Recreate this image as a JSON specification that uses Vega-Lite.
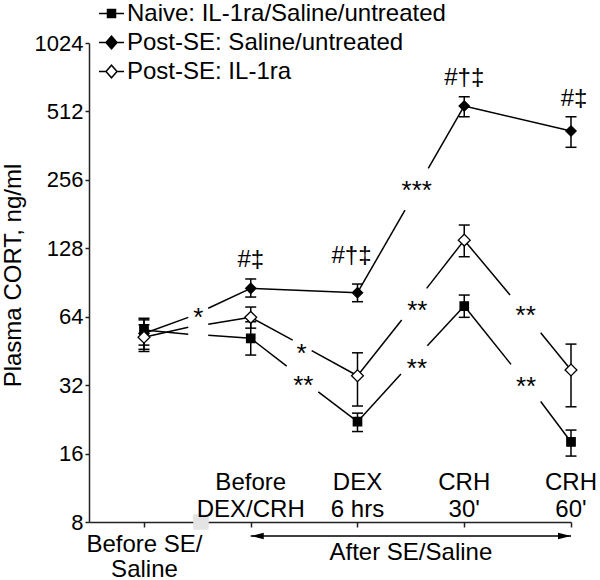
{
  "$schema": "https://vega.github.io/schema/vega-lite/v6.json",
  "width": 482,
  "height": 479,
  "autosize": "none",
  "padding": {"left": 89, "top": 43, "right": 29, "bottom": 58},
  "background": "white",
  "config": {"view": {"stroke": null}, "font": "Liberation Sans"},
  "datasets": {
    "pts": [
      {"s": "Naive: IL-1ra/Saline/untreated", "x": 1, "y": 56, "lo": 48, "hi": 63},
      {"s": "Naive: IL-1ra/Saline/untreated", "x": 2, "y": 51.4, "lo": 43.4, "hi": 60.8},
      {"s": "Naive: IL-1ra/Saline/untreated", "x": 3, "y": 22.1, "lo": 20.0, "hi": 24.1},
      {"s": "Naive: IL-1ra/Saline/untreated", "x": 4, "y": 71.3, "lo": 63.6, "hi": 79.7},
      {"s": "Naive: IL-1ra/Saline/untreated", "x": 5, "y": 18.0, "lo": 15.6, "hi": 20.3},
      {"s": "Post-SE: Saline/untreated", "x": 1, "y": 54, "lo": 45, "hi": 62},
      {"s": "Post-SE: Saline/untreated", "x": 2, "y": 85.3, "lo": 78.1, "hi": 93.8},
      {"s": "Post-SE: Saline/untreated", "x": 3, "y": 81.6, "lo": 74.5, "hi": 89.1},
      {"s": "Post-SE: Saline/untreated", "x": 4, "y": 541, "lo": 485, "hi": 594},
      {"s": "Post-SE: Saline/untreated", "x": 5, "y": 420, "lo": 356, "hi": 485},
      {"s": "Post-SE: IL-1ra", "x": 1, "y": 52, "lo": 46, "hi": 59},
      {"s": "Post-SE: IL-1ra", "x": 2, "y": 63.6, "lo": 57, "hi": 70.6},
      {"s": "Post-SE: IL-1ra", "x": 3, "y": 35.2, "lo": 25.9, "hi": 44.4},
      {"s": "Post-SE: IL-1ra", "x": 4, "y": 139, "lo": 117.5, "hi": 162},
      {"s": "Post-SE: IL-1ra", "x": 5, "y": 37.3, "lo": 25.7, "hi": 48.5}
    ],
    "segs": [
      {"s": "Naive", "x": 1, "y": 56, "x2": 1.415, "y2": 53.6},
      {"s": "Naive", "x": 1.602, "y": 53.0, "x2": 2, "y2": 51.4},
      {"s": "Naive", "x": 2, "y": 51.4, "x2": 2.337, "y2": 38.8},
      {"s": "Naive", "x": 2.633, "y": 29.9, "x2": 3, "y2": 22.1},
      {"s": "Naive", "x": 3, "y": 22.1, "x2": 3.407, "y2": 35.8},
      {"s": "Naive", "x": 3.654, "y": 47.7, "x2": 4, "y2": 71.3},
      {"s": "Naive", "x": 4, "y": 71.3, "x2": 4.438, "y2": 39.5},
      {"s": "Naive", "x": 4.716, "y": 27.1, "x2": 5, "y2": 18.0},
      {"s": "IL-1ra", "x": 1, "y": 52, "x2": 1.415, "y2": 57.5},
      {"s": "IL-1ra", "x": 1.602, "y": 59.3, "x2": 2, "y2": 63.6},
      {"s": "IL-1ra", "x": 2, "y": 63.6, "x2": 2.393, "y2": 50.5},
      {"s": "IL-1ra", "x": 2.571, "y": 45.4, "x2": 3, "y2": 35.2},
      {"s": "IL-1ra", "x": 3, "y": 35.2, "x2": 3.414, "y2": 61.9},
      {"s": "IL-1ra", "x": 3.648, "y": 85.3, "x2": 4, "y2": 139},
      {"s": "IL-1ra", "x": 4, "y": 139, "x2": 4.429, "y2": 79.7},
      {"s": "IL-1ra", "x": 4.716, "y": 54.4, "x2": 5, "y2": 37.3},
      {"s": "Saline", "x": 1, "y": 54, "x2": 1.415, "y2": 63.6},
      {"s": "Saline", "x": 1.602, "y": 69.7, "x2": 2, "y2": 85.3},
      {"s": "Saline", "x": 2, "y": 85.3, "x2": 3, "y2": 81.6},
      {"s": "Saline", "x": 3, "y": 81.6, "x2": 3.445, "y2": 188.6},
      {"s": "Saline", "x": 3.663, "y": 287.8, "x2": 4, "y2": 541},
      {"s": "Saline", "x": 4, "y": 541, "x2": 5, "y2": 420}
    ],
    "stars": [
      {"x": 1.508, "y": 68.5, "t": "*"},
      {"x": 2.477, "y": 47.7, "t": "*"},
      {"x": 2.492, "y": 34.3, "t": "**"},
      {"x": 3.555, "y": 247, "t": "***"},
      {"x": 3.56, "y": 73.8, "t": "**"},
      {"x": 3.557, "y": 41.0, "t": "**"},
      {"x": 4.576, "y": 69.7, "t": "**"},
      {"x": 4.579, "y": 33.9, "t": "**"}
    ],
    "sig": [
      {"x": 2, "y": 113.7, "t": "#‡"},
      {"x": 2.944, "y": 118.4, "t": "#†‡"},
      {"x": 4, "y": 716, "t": "#†‡"},
      {"x": 5.028, "y": 579, "t": "#‡"}
    ],
    "cats": [
      {"x": 2, "t": "Before\nDEX/CRH"},
      {"x": 3, "t": "DEX\n6 hrs"},
      {"x": 4, "t": "CRH\n30'"},
      {"x": 5, "t": "CRH\n60'"}
    ],
    "span": [
      {"label": "After SE/Saline", "from": 2, "to": 5}
    ]
  },
  "resolve": {"scale": {"shape": "independent", "fill": "independent", "size": "independent"}},
  "layer": [
    {
      "data": {"name": "segs"},
      "mark": {"type": "rule", "color": "black", "strokeWidth": 1.5},
      "encoding": {
        "x": {"field": "x", "type": "quantitative", "scale": {"domain": [0.485, 5], "nice": false, "zero": false}, "axis": {
          "values": [1, 2, 3, 4, 5], "title": null, "grid": false,
          "labelExpr": "datum.value == 1 ? ['Before SE/', 'Saline'] : ''",
          "labelFontSize": 24, "labelColor": "black", "labelBaseline": "top", "labelPadding": 5, "labelLineHeight": 25,
          "labelFlush": false, "labelOverlap": false,
          "tickSize": 5, "tickColor": "#222", "tickWidth": 1.5, "domainColor": "#222", "domainWidth": 1.5
        }},
        "y": {"field": "y", "type": "quantitative", "scale": {"type": "log", "base": 2, "domain": [8, 1024], "nice": false}, "axis": {
          "values": [8, 16, 32, 64, 128, 256, 512, 1024], "format": "d", "grid": false,
          "title": "Plasma CORT, ng/ml", "titleFontSize": 24, "titleFontWeight": "normal", "titleColor": "black",
          "titleX": -76, "titleY": 232, "titleAngle": 270, "titleAlign": "center", "titleBaseline": "middle",
          "labelFontSize": 22, "labelColor": "black", "labelPadding": 2, "labelFlush": false, "labelOverlap": false,
          "tickSize": 4, "tickColor": "#222", "tickWidth": 1.5, "domainColor": "#222", "domainWidth": 1.5
        }},
        "x2": {"field": "x2"},
        "y2": {"field": "y2"}
      }
    },
    {
      "data": {"values": [{"b": 1}]},
      "mark": {"type": "point", "shape": "square", "filled": true, "opacity": 1, "color": "#e4e4e4", "size": 240},
      "encoding": {
        "x": {"datum": 1.534, "type": "quantitative", "scale": {"domain": [0.485, 5], "nice": false, "zero": false}},
        "y": {"datum": 8, "type": "quantitative", "scale": {"type": "log", "base": 2, "domain": [8, 1024], "nice": false}}
      }
    },
    {
      "data": {"name": "pts"},
      "mark": {"type": "rule", "color": "black", "strokeWidth": 1.5},
      "encoding": {
        "x": {"field": "x", "type": "quantitative", "scale": {"domain": [0.485, 5], "nice": false, "zero": false}},
        "y": {"field": "lo", "type": "quantitative", "scale": {"type": "log", "base": 2, "domain": [8, 1024], "nice": false}},
        "y2": {"field": "hi"}
      }
    },
    {
      "data": {"name": "pts"},
      "mark": {"type": "tick", "orient": "horizontal", "color": "black", "size": 11, "thickness": 1.5, "opacity": 1},
      "encoding": {
        "x": {"field": "x", "type": "quantitative", "scale": {"domain": [0.485, 5], "nice": false, "zero": false}},
        "y": {"field": "lo", "type": "quantitative", "scale": {"type": "log", "base": 2, "domain": [8, 1024], "nice": false}}
      }
    },
    {
      "data": {"name": "pts"},
      "mark": {"type": "tick", "orient": "horizontal", "color": "black", "size": 11, "thickness": 1.5, "opacity": 1},
      "encoding": {
        "x": {"field": "x", "type": "quantitative", "scale": {"domain": [0.485, 5], "nice": false, "zero": false}},
        "y": {"field": "hi", "type": "quantitative", "scale": {"type": "log", "base": 2, "domain": [8, 1024], "nice": false}}
      }
    },
    {
      "data": {"name": "pts"},
      "mark": {"type": "point", "filled": true, "opacity": 1, "stroke": "black", "strokeWidth": 1.3},
      "encoding": {
        "x": {"field": "x", "type": "quantitative", "scale": {"domain": [0.485, 5], "nice": false, "zero": false}},
        "y": {"field": "y", "type": "quantitative", "scale": {"type": "log", "base": 2, "domain": [8, 1024], "nice": false}},
        "shape": {"field": "s", "type": "nominal",
          "scale": {"domain": ["Naive: IL-1ra/Saline/untreated", "Post-SE: Saline/untreated", "Post-SE: IL-1ra"], "range": ["square", "diamond", "diamond"]},
          "legend": null},
        "fill": {"field": "s", "type": "nominal",
          "scale": {"domain": ["Naive: IL-1ra/Saline/untreated", "Post-SE: Saline/untreated", "Post-SE: IL-1ra"], "range": ["black", "black", "white"]},
          "legend": null},
        "size": {"field": "s", "type": "ordinal",
          "scale": {"domain": ["Naive: IL-1ra/Saline/untreated", "Post-SE: Saline/untreated", "Post-SE: IL-1ra"], "range": [70, 140, 150]},
          "legend": null}
      }
    },
    {
      "data": {"name": "pts"},
      "transform": [{"filter": "false"}],
      "mark": {"type": "point", "filled": false, "opacity": 1, "stroke": "black", "strokeWidth": 1.5},
      "encoding": {
        "x": {"field": "x", "type": "quantitative", "scale": {"domain": [0.485, 5], "nice": false, "zero": false}},
        "y": {"field": "y", "type": "quantitative", "scale": {"type": "log", "base": 2, "domain": [8, 1024], "nice": false}},
        "shape": {"field": "s", "type": "nominal",
          "scale": {"domain": ["Naive: IL-1ra/Saline/untreated", "Post-SE: Saline/untreated", "Post-SE: IL-1ra"],
            "range": ["M-1,0H1M-0.32,-0.32H0.32V0.32H-0.32Z", "M-1,0H1M-0.44,0L0,-0.5L0.44,0L0,0.5Z", "M-1,0H-0.44M0.44,0H1M-0.44,0L0,-0.5L0.44,0L0,0.5Z"]},
          "legend": {
            "orient": "none", "legendX": 9, "legendY": -43, "title": null, "padding": 0,
            "labelFontSize": 24, "labelColor": "black", "labelOffset": 2, "labelLimit": 0, "rowPadding": 3,
            "symbolSize": 625, "symbolStrokeWidth": 1.5, "symbolFillColor": "black"
          }},
        "fill": {"field": "s", "type": "nominal",
          "scale": {"domain": ["Naive: IL-1ra/Saline/untreated", "Post-SE: Saline/untreated", "Post-SE: IL-1ra"], "range": ["black", "black", "white"]},
          "legend": {
            "orient": "none", "legendX": 9, "legendY": -43, "title": null, "padding": 0,
            "labelFontSize": 24, "labelColor": "black", "labelOffset": 2, "labelLimit": 0, "rowPadding": 3,
            "symbolSize": 625, "symbolStrokeWidth": 1.5, "symbolFillColor": "black"
          }}
      }
    },
    {
      "data": {"name": "stars"},
      "mark": {"type": "text", "fontSize": 26, "color": "black", "align": "center", "baseline": "middle", "dy": 8},
      "encoding": {
        "x": {"field": "x", "type": "quantitative", "scale": {"domain": [0.485, 5], "nice": false, "zero": false}},
        "y": {"field": "y", "type": "quantitative", "scale": {"type": "log", "base": 2, "domain": [8, 1024], "nice": false}},
        "text": {"field": "t"}
      }
    },
    {
      "data": {"name": "sig"},
      "mark": {"type": "text", "fontSize": 24, "color": "black", "align": "center", "baseline": "middle"},
      "encoding": {
        "x": {"field": "x", "type": "quantitative", "scale": {"domain": [0.485, 5], "nice": false, "zero": false}},
        "y": {"field": "y", "type": "quantitative", "scale": {"type": "log", "base": 2, "domain": [8, 1024], "nice": false}},
        "text": {"field": "t"}
      }
    },
    {
      "data": {"name": "cats"},
      "mark": {"type": "text", "fontSize": 24, "color": "black", "align": "center", "baseline": "bottom", "lineBreak": "\n", "lineHeight": 26.6, "dy": -26.6},
      "encoding": {
        "x": {"field": "x", "type": "quantitative", "scale": {"domain": [0.485, 5], "nice": false, "zero": false}},
        "y": {"datum": 8, "type": "quantitative", "scale": {"type": "log", "base": 2, "domain": [8, 1024], "nice": false}},
        "text": {"field": "t"}
      }
    },
    {
      "data": {"name": "span"},
      "mark": {"type": "rule", "color": "black", "strokeWidth": 1.5},
      "encoding": {
        "x": {"field": "from", "type": "quantitative", "scale": {"domain": [0.485, 5], "nice": false, "zero": false}},
        "x2": {"field": "to"},
        "y": {"datum": 6.94, "type": "quantitative", "scale": {"type": "log", "base": 2, "domain": [8, 1024], "nice": false}}
      }
    },
    {
      "data": {"name": "span"},
      "mark": {"type": "point", "filled": true, "opacity": 1, "color": "black", "size": 676, "shape": "M0,0L1,-0.25L1,0.25Z"},
      "encoding": {
        "x": {"field": "from", "type": "quantitative", "scale": {"domain": [0.485, 5], "nice": false, "zero": false}},
        "y": {"datum": 6.94, "type": "quantitative", "scale": {"type": "log", "base": 2, "domain": [8, 1024], "nice": false}}
      }
    },
    {
      "data": {"name": "span"},
      "mark": {"type": "point", "filled": true, "opacity": 1, "color": "black", "size": 676, "shape": "M0,0L-1,-0.25L-1,0.25Z"},
      "encoding": {
        "x": {"field": "to", "type": "quantitative", "scale": {"domain": [0.485, 5], "nice": false, "zero": false}},
        "y": {"datum": 6.94, "type": "quantitative", "scale": {"type": "log", "base": 2, "domain": [8, 1024], "nice": false}}
      }
    },
    {
      "data": {"name": "span"},
      "mark": {"type": "text", "fontSize": 24, "color": "black", "align": "center", "baseline": "middle"},
      "encoding": {
        "x": {"datum": 3.5, "type": "quantitative", "scale": {"domain": [0.485, 5], "nice": false, "zero": false}},
        "y": {"datum": 5.87, "type": "quantitative", "scale": {"type": "log", "base": 2, "domain": [8, 1024], "nice": false}},
        "text": {"field": "label"}
      }
    }
  ]
}
